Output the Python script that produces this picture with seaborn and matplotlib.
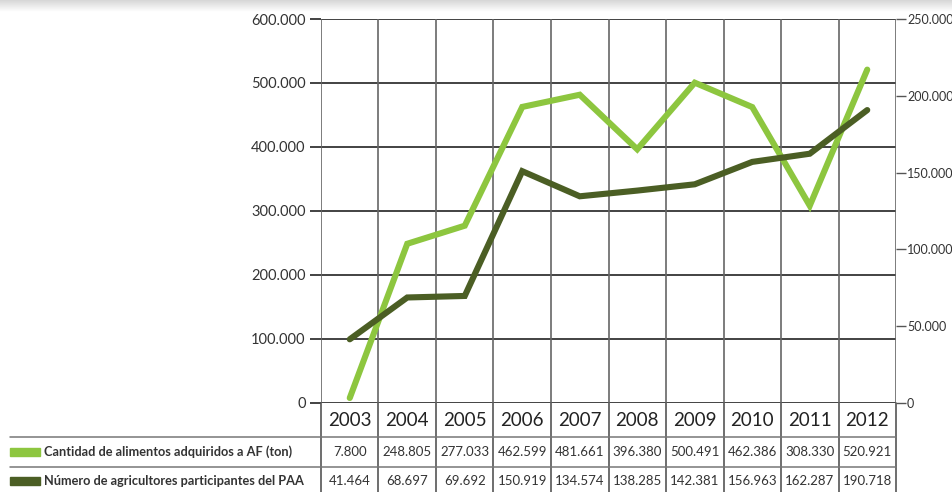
import numpy as np
import pandas as pd
import matplotlib
matplotlib.use("Agg")
import matplotlib.pyplot as plt
import seaborn as sns
from matplotlib.ticker import FuncFormatter

# Data
years = [2003, 2004, 2005, 2006, 2007, 2008, 2009, 2010, 2011, 2012]
alimentos_ton = [7800, 248805, 277033, 462599, 481661, 396380, 500491, 462386, 308330, 520921]
agricultores = [41464, 68697, 69692, 150919, 134574, 138285, 142381, 156963, 162287, 190718]
label_alimentos = "Cantidad de alimentos adquiridos a AF (ton)"
label_agricultores = "Número de agricultores participantes del PAA"
left_ticks = [0, 100000, 200000, 300000, 400000, 500000, 600000]
right_ticks = [0, 50000, 100000, 150000, 200000, 250000]

LIGHT = "#8dc63f"
DARK = "#4b5e24"
TXT = "#333333"

sns.set_theme(style="white")
plt.rcParams["font.family"] = ["Lato", "DejaVu Sans"]

W_PX, H_PX = 953, 492
fig = plt.figure(figsize=(W_PX / 100, H_PX / 100), dpi=100)


def fx(px):
    return px / W_PX


def fy(py):
    return 1 - py / H_PX


# soft shadow band along the top edge
grad = np.linspace(0.84, 1.0, 50).reshape(-1, 1)
sh = fig.add_axes([0, fy(12), 1, 12 / H_PX])
sh.imshow(grad, aspect="auto", cmap="gray", vmin=0, vmax=1, extent=[0, 1, 0, 1])
sh.axis("off")

x_left, x_right, y_top, y_bot = 321, 896, 19, 403
ax = fig.add_axes([fx(x_left), fy(y_bot), fx(x_right - x_left), (y_bot - y_top) / H_PX])
ax2 = ax.twinx()

df = pd.DataFrame({"pos": np.arange(len(years)), "alimentos": alimentos_ton,
                   "agricultores": agricultores})

sns.lineplot(data=df, x="pos", y="alimentos", ax=ax, color=LIGHT, linewidth=4.4,
             solid_capstyle="round", solid_joinstyle="miter")
sns.lineplot(data=df, x="pos", y="agricultores", ax=ax2, color=DARK, linewidth=4.4,
             solid_capstyle="round", solid_joinstyle="miter")

n = len(years)
for a in (ax, ax2):
    a.set_xlim(-0.5, n - 0.5)
    a.set_xlabel("")
    a.set_ylabel("")
ax.set_ylim(0, 600000)
ax2.set_ylim(0, 250000)

fmt = FuncFormatter(lambda v, p: f"{int(v):,}".replace(",", "."))
ax.set_yticks(left_ticks)
ax.yaxis.set_major_formatter(fmt)
ax2.set_yticks(right_ticks)
ax2.yaxis.set_major_formatter(fmt)
ax.set_xticks([])
ax2.set_xticks([])

ax.tick_params(axis="y", left=True, length=8, width=1.2, color="#222222",
               labelsize=10.5, labelcolor=TXT, pad=3)
ax2.tick_params(axis="y", right=True, length=7, width=1.0, color="#555555",
                labelsize=9, labelcolor=TXT, pad=1)

# horizontal grid on the left scale, vertical column separators
for v in left_ticks:
    ax.axhline(v, color="#222222", linewidth=1.2, zorder=0)
for b in np.arange(n + 1) - 0.5:
    ax.axvline(b, color="#666666", linewidth=1.2, zorder=0)

for s in ax.spines.values():
    s.set_visible(False)
for s in ax2.spines.values():
    s.set_visible(False)

# table under the chart
tax = fig.add_axes([fx(x_left), 0, fx(x_right - x_left), (H_PX - y_bot) / H_PX])
tax.set_xlim(-0.5, n - 0.5)
tax.set_ylim(H_PX, y_bot)
tax.axis("off")

for b in np.arange(n + 1) - 0.5:
    tax.plot([b, b], [y_bot, H_PX], color="#555555", linewidth=1.2, clip_on=False)

col_w = (x_right - x_left) / n
left_ext = -0.5 - (x_left - 10) / col_w
for yy in (437, 467):
    tax.plot([left_ext, n - 0.5], [yy, yy], color="#777777", linewidth=1.1, clip_on=False)

for i, yr in enumerate(years):
    tax.text(i, 421, str(yr), ha="center", va="center", fontsize=13.5, color="#222222")
    tax.text(i, 452, f"{alimentos_ton[i]:,}".replace(",", "."), ha="center", va="center",
             fontsize=9.5, color=TXT)
    tax.text(i, 481, f"{agricultores[i]:,}".replace(",", "."), ha="center", va="center",
             fontsize=9.5, color=TXT)

# row labels with colour swatches
for yc, col, lab in ((452, LIGHT, label_alimentos), (481, DARK, label_agricultores)):
    fig.patches.append(plt.Rectangle((fx(10), fy(yc + 4)), fx(30), 8 / H_PX,
                                     transform=fig.transFigure, color=col, zorder=5))
    fig.text(fx(44), fy(yc), lab, ha="left", va="center", fontsize=9.2,
             fontweight="bold", color=TXT)

fig.savefig("out.png", dpi=100)
